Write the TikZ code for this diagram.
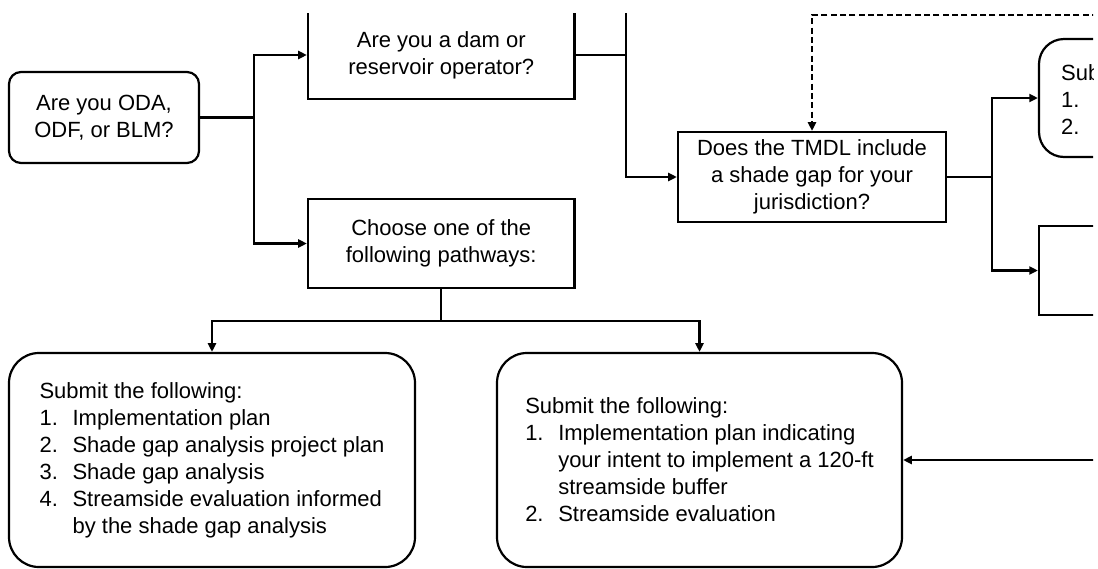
\documentclass[tikz,border=0pt]{standalone}
\usepackage{fontspec}
\setmainfont{Liberation Sans}
\usetikzlibrary{arrows.meta}

\tikzset{every picture/.style={line width=1.65pt}}
\tikzset{
  qbox/.style={draw, rectangle, inner sep=0pt, align=center},
  rbox/.style={draw, rounded corners=9pt, inner sep=0pt, align=center},
  listbox/.style={draw, rounded corners=22.5pt, inner sep=0pt, align=left, minimum width=304.5pt, minimum height=160.5pt},
  flow/.style={-{Triangle[length=6.5pt,width=6pt]}},
}
\newcommand{\itm}[2]{\makebox[24.75pt][l]{#1}#2}
\newcommand{\cnt}[1]{\hspace*{24.75pt}#1}

\begin{document}
\begin{tikzpicture}[x=0.75pt,y=0.75pt,yscale=-1,xscale=1,font=\fontsize{16.5}{20.25}\selectfont]
\useasboundingbox (0,0) rectangle (1098,568);
\clip (0,13) rectangle (1093,568);

%Shape: Rounded Rect
\node [rbox, minimum width=142.5pt, minimum height=68.25pt] (oda) at (104,117.5) {Are you ODA,\\ODF, or BLM?};
%Shape: Rectangle
\node [qbox, minimum width=199.9pt, minimum height=66pt] (dam) at (441.25,55) {Are you a dam or\\reservoir operator?};
%Shape: Rectangle
\node [qbox, minimum width=199.9pt, minimum height=66.75pt] (choose) at (441.25,243.5) {Choose one of the\\following pathways:};
%Shape: Rectangle
\node [qbox, minimum width=201pt, minimum height=67.5pt] (tmdl) at (812,177) {Does the TMDL include\\a shade gap for your\\jurisdiction?};
%Shape: Rounded Rect
\node [draw, rounded corners=18.75pt, minimum width=225pt, minimum height=88.5pt] (gapyes) at (1189,98) {};
\node [anchor=west, inner sep=0pt, align=left] (gapyestxt) at (1060,100) {Submit the following:\\1.\\2.};
%Shape: Rectangle
\node [qbox, minimum width=225pt, minimum height=66.75pt] (gapno) at (1189,270.5) {};

%Shape: Rounded Rect
\node [listbox] (pathA) at (212,460) {Submit the following:\\
  \itm{1.}{Implementation plan}\\
  \itm{2.}{Shade gap analysis project plan}\\
  \itm{3.}{Shade gap analysis}\\
  \itm{4.}{Streamside evaluation informed}\\
  \cnt{by the shade gap analysis}};
%Shape: Rounded Rect
\node [listbox, minimum width=303.75pt] (pathB) at (699.5,460) {Submit the following:\\
  \itm{1.}{Implementation plan indicating}\\
  \cnt{your intent to implement a 120-ft}\\
  \cnt{streamside buffer}\\
  \itm{2.}{Streamside evaluation}};

%Straight Lines
\coordinate (j1) at (254,117.5);
\draw (oda.east) -- (j1);
\draw [flow] (j1) |- (dam.west);
\draw [flow] (j1) |- (choose.west);

%Straight Lines
\coordinate (j2) at (626,0);
\draw (dam.east) -- (dam.east -| j2);
\draw [flow] (j2) |- (tmdl.west);

%Dashed Lines
\coordinate (dstart) at (1098,15);
\draw [flow, dash pattern=on 4.5pt off 2.5pt] (dstart) -| (tmdl.north);

%Straight Lines
\coordinate (j3) at (992,177);
\draw (tmdl.east) -- (j3);
\draw [flow] (j3) |- (gapyes.west);
\draw [flow] (j3) |- (gapno.west);

%Straight Lines
\coordinate (j4) at (441.25,321);
\draw (choose.south) -- (j4);
\draw [flow] (j4) -| (pathA.north);
\draw [flow] (j4) -| (pathB.north);

%Straight Lines
\coordinate (rin) at (1098,460);
\draw [flow] (rin) -- (pathB.east);

\end{tikzpicture}
\end{document}
